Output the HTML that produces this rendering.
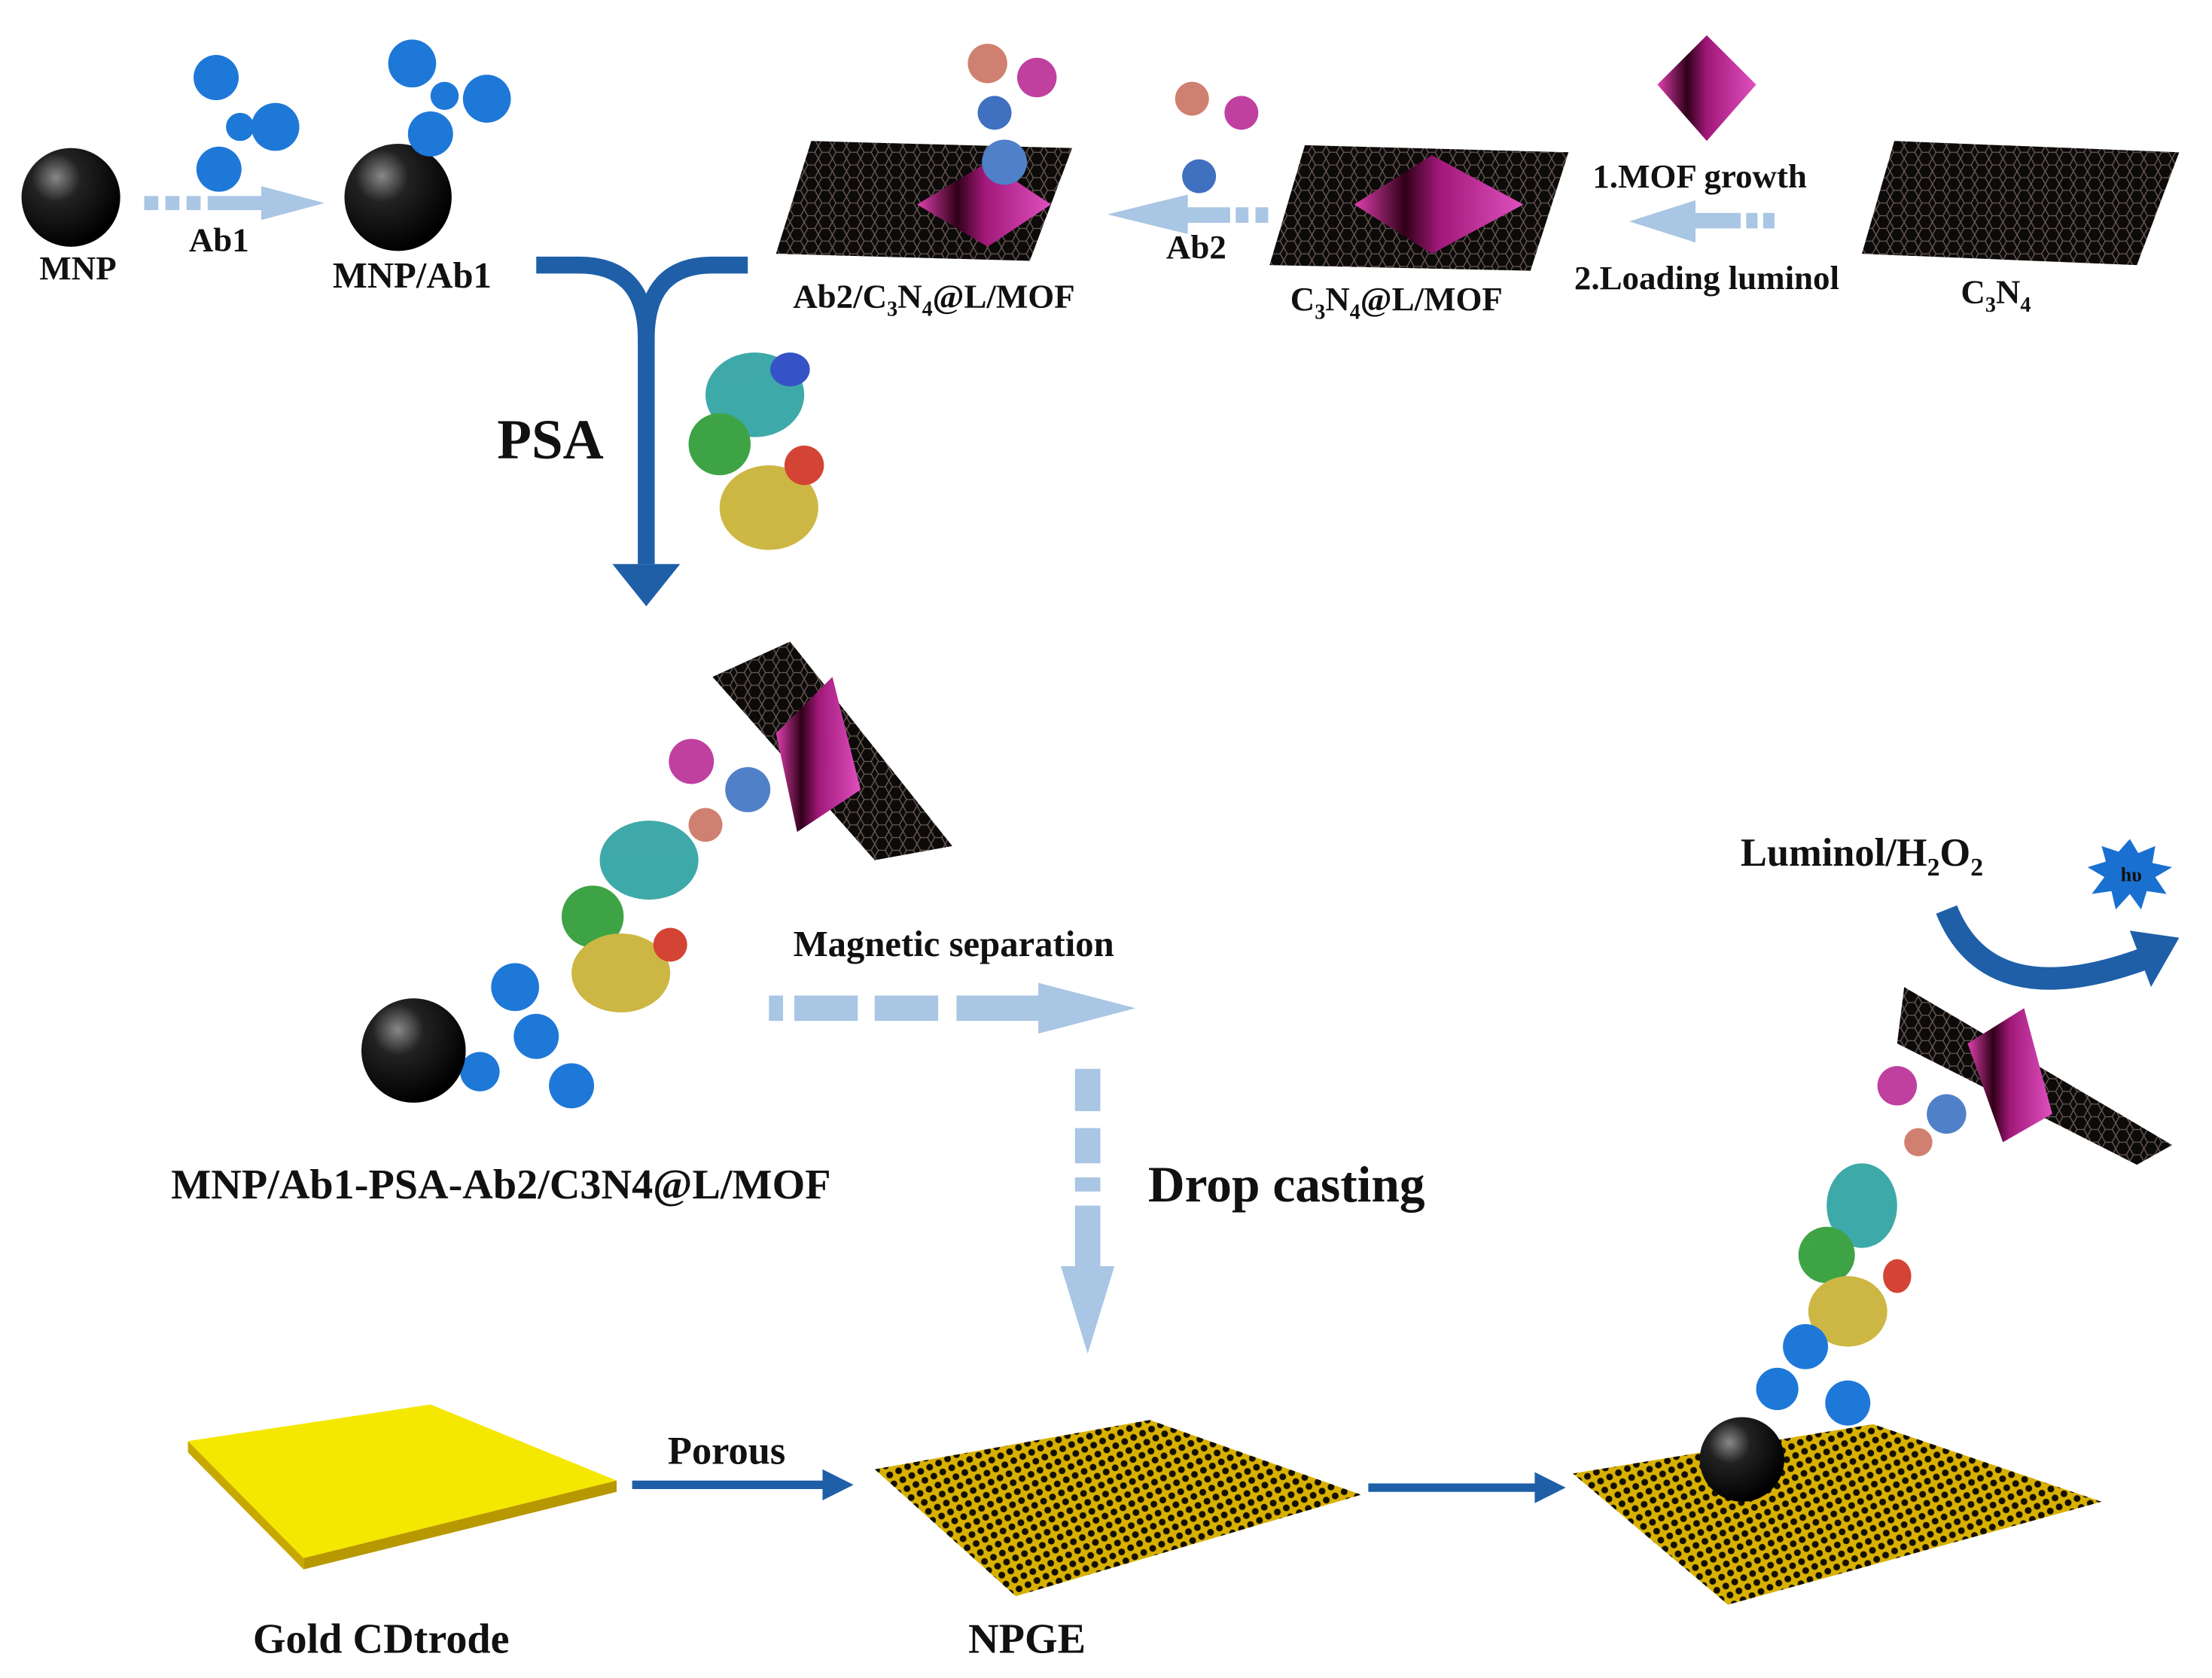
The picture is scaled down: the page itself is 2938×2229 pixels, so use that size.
<!DOCTYPE html>
<html><head><meta charset="utf-8"><style>html,body{margin:0;padding:0;background:#fff}svg{display:block}</style></head>
<body>
<svg width="2938" height="2229" viewBox="0 0 1568 1190" xmlns="http://www.w3.org/2000/svg">
<defs>
<pattern id="hex" width="10" height="9" patternUnits="userSpaceOnUse">
<rect width="10" height="9" fill="#0d0a0a"/>
<path d="M0 4.5 L2.5 0 L7.5 0 L10 4.5 L7.5 9 L2.5 9 Z" fill="none" stroke="#6a5c55" stroke-width="0.7"/>
</pattern>
<pattern id="chk" width="7" height="7" patternUnits="userSpaceOnUse" patternTransform="rotate(-25)">
<rect width="7" height="7" fill="#d8b000"/>
<circle cx="3.5" cy="3.5" r="2.4" fill="#141000"/>
</pattern>
<radialGradient id="ball" cx="0.35" cy="0.3" r="0.7">
<stop offset="0" stop-color="#888"/><stop offset="0.35" stop-color="#222"/><stop offset="1" stop-color="#000"/>
</radialGradient>
<linearGradient id="mof" x1="0" x2="1">
<stop offset="0" stop-color="#e040b0"/><stop offset="0.3" stop-color="#300018"/><stop offset="0.5" stop-color="#a01878"/><stop offset="1" stop-color="#e050c0"/>
</linearGradient>
</defs>
<g font-family="Liberation Serif, serif" font-weight="bold" fill="#111">

<!-- top row -->
<circle cx="50" cy="140" r="35" fill="url(#ball)"/>
<text x="55" y="198" font-size="24" text-anchor="middle">MNP</text>
<g fill="#a9c6e4"><rect x="102" y="139" width="10" height="10"/><rect x="117" y="139" width="10" height="10"/><rect x="132" y="139" width="10" height="10"/><rect x="147" y="139" width="40" height="10"/><path d="M185 132 L230 144 L185 156Z"/></g>
<text x="155" y="178" font-size="24" text-anchor="middle">Ab1</text>
<g fill="#1e78d8"><circle cx="153" cy="55" r="16"/><circle cx="195" cy="90" r="17"/><circle cx="155" cy="120" r="16"/><circle cx="170" cy="90" r="10"/></g>
<circle cx="282" cy="140" r="38" fill="url(#ball)"/>
<g fill="#1e78d8"><circle cx="292" cy="45" r="17"/><circle cx="345" cy="70" r="17"/><circle cx="305" cy="95" r="16"/><circle cx="315" cy="68" r="10"/></g>
<text x="292" y="204" font-size="26" text-anchor="middle">MNP/Ab1</text>

<!-- Y arrow -->
<path d="M380 188 L410 188 Q458 188 458 240 L458 400" fill="none" stroke="#1f5fa8" stroke-width="12"/>
<path d="M530 188 L505 188 Q458 188 458 240" fill="none" stroke="#1f5fa8" stroke-width="12"/>
<path d="M434 400 L482 400 L458 430Z" fill="#1f5fa8"/>
<text x="390" y="325" font-size="40" text-anchor="middle">PSA</text>
<g opacity="0.9"><ellipse cx="535" cy="280" rx="35" ry="30" fill="#2aa0a0"/><ellipse cx="510" cy="315" rx="22" ry="22" fill="#2a9a30"/><ellipse cx="545" cy="360" rx="35" ry="30" fill="#c8b030"/><ellipse cx="570" cy="330" rx="14" ry="14" fill="#d03020"/><ellipse cx="560" cy="262" rx="14" ry="12" fill="#2040c0"/></g>

<!-- sheets -->
<polygon points="575,100 760,105 730,185 550,180" fill="url(#hex)"/>
<polygon points="650,145 700,115 745,145 700,175" fill="url(#mof)"/>
<g><circle cx="700" cy="45" r="14" fill="#d08070"/><circle cx="735" cy="55" r="14" fill="#c040a0"/><circle cx="705" cy="80" r="12" fill="#4070c0"/><circle cx="712" cy="115" r="16" fill="#5080c8"/></g>
<text x="662" y="218" font-size="24" text-anchor="middle">Ab2/C<tspan font-size="15" dy="6">3</tspan><tspan dy="-6">N</tspan><tspan font-size="15" dy="6">4</tspan><tspan dy="-6">@L/MOF</tspan></text>
<g fill="#a9c6e4"><rect x="890" y="147" width="9" height="11"/><rect x="876" y="147" width="9" height="11"/><rect x="840" y="147" width="32" height="11"/><path d="M842 138 L785 152 L842 166Z"/></g>
<g><circle cx="845" cy="70" r="12" fill="#d08070"/><circle cx="880" cy="80" r="12" fill="#c040a0"/><circle cx="850" cy="125" r="12" fill="#4070c0"/></g>
<text x="848" y="183" font-size="24" text-anchor="middle">Ab2</text>
<polygon points="925,103 1112,108 1085,192 900,188" fill="url(#hex)"/>
<polygon points="960,145 1015,110 1080,145 1015,180" fill="url(#mof)"/>
<text x="990" y="220" font-size="24" text-anchor="middle">C<tspan font-size="15" dy="6">3</tspan><tspan dy="-6">N</tspan><tspan font-size="15" dy="6">4</tspan><tspan dy="-6">@L/MOF</tspan></text>
<polygon points="1175,60 1210,25 1245,60 1210,100" fill="url(#mof)"/>
<text x="1205" y="133" font-size="24" text-anchor="middle">1.MOF growth</text>
<g fill="#a9c6e4"><rect x="1250" y="151" width="8" height="11"/><rect x="1238" y="151" width="8" height="11"/><rect x="1200" y="151" width="34" height="11"/><path d="M1202 142 L1155 157 L1202 172Z"/></g>
<text x="1210" y="205" font-size="24" text-anchor="middle">2.Loading luminol</text>
<polygon points="1343,100 1545,108 1515,188 1320,180" fill="url(#hex)"/>
<text x="1415" y="215" font-size="24" text-anchor="middle">C<tspan font-size="15" dy="6">3</tspan><tspan dy="-6">N</tspan><tspan font-size="15" dy="6">4</tspan></text>

<!-- middle complex -->
<polygon points="505,480 560,455 675,600 620,610" fill="url(#hex)"/>
<polygon points="550,520 590,480 610,560 565,590" fill="url(#mof)"/>
<g><circle cx="490" cy="540" r="16" fill="#c040a0"/><circle cx="530" cy="560" r="16" fill="#5080c8"/><circle cx="500" cy="585" r="12" fill="#d08070"/></g>
<g opacity="0.9"><ellipse cx="460" cy="610" rx="35" ry="28" fill="#2aa0a0"/><ellipse cx="420" cy="650" rx="22" ry="22" fill="#2a9a30"/><ellipse cx="440" cy="690" rx="35" ry="28" fill="#c8b030"/><ellipse cx="475" cy="670" rx="12" ry="12" fill="#d03020"/></g>
<g fill="#1e78d8"><circle cx="365" cy="700" r="17"/><circle cx="380" cy="735" r="16"/><circle cx="340" cy="760" r="14"/><circle cx="405" cy="770" r="16"/></g>
<circle cx="293" cy="745" r="37" fill="url(#ball)"/>
<text x="355" y="850" font-size="30" text-anchor="middle">MNP/Ab1-PSA-Ab2/C3N4@L/MOF</text>
<text x="676" y="678" font-size="26" text-anchor="middle">Magnetic separation</text>
<g fill="#a9c6e4"><rect x="545" y="706" width="10" height="18"/><rect x="563" y="706" width="45" height="18"/><rect x="620" y="706" width="45" height="18"/><rect x="678" y="706" width="60" height="18"/><path d="M736 697 L805 715 L736 733Z"/></g>
<g fill="#a9c6e4"><rect x="762" y="758" width="18" height="30"/><rect x="762" y="800" width="18" height="25"/><rect x="762" y="835" width="18" height="10"/><rect x="762" y="855" width="18" height="45"/><path d="M752 898 L790 898 L771 960Z"/></g>
<text x="912" y="852" font-size="36" text-anchor="middle">Drop casting</text>

<!-- bottom -->
<polygon points="133,1022 305,996 437,1050 215,1105" fill="#f4e800"/>
<polygon points="215,1105 437,1050 437,1058 215,1113" fill="#b89800"/>
<polygon points="133,1022 215,1105 215,1113 133,1030" fill="#c8a800"/>
<text x="270" y="1172" font-size="30" text-anchor="middle">Gold CDtrode</text>
<line x1="448" y1="1053" x2="585" y2="1053" stroke="#1f5fa8" stroke-width="6"/><path d="M583 1042 L605 1053 L583 1064Z" fill="#1f5fa8"/>
<text x="515" y="1038" font-size="28" text-anchor="middle">Porous</text>
<polygon points="620,1042 815,1007 965,1060 720,1132" fill="url(#chk)"/>
<text x="728" y="1172" font-size="30" text-anchor="middle">NPGE</text>
<line x1="970" y1="1055" x2="1090" y2="1055" stroke="#1f5fa8" stroke-width="6"/><path d="M1088 1044 L1110 1055 L1088 1066Z" fill="#1f5fa8"/>
<polygon points="1115,1045 1328,1010 1490,1065 1225,1138" fill="url(#chk)"/>
<polygon points="1350,700 1540,812 1515,826 1345,740" fill="url(#hex)"/>
<polygon points="1395,740 1435,715 1455,790 1420,810" fill="url(#mof)"/>
<g><circle cx="1345" cy="770" r="14" fill="#c040a0"/><circle cx="1380" cy="790" r="14" fill="#5080c8"/><circle cx="1360" cy="810" r="10" fill="#d08070"/></g>
<g opacity="0.9"><ellipse cx="1320" cy="855" rx="25" ry="30" fill="#2aa0a0"/><ellipse cx="1295" cy="890" rx="20" ry="20" fill="#2a9a30"/><ellipse cx="1310" cy="930" rx="28" ry="25" fill="#c8b030"/><ellipse cx="1345" cy="905" rx="10" ry="12" fill="#d03020"/></g>
<g fill="#1e78d8"><circle cx="1280" cy="955" r="16"/><circle cx="1260" cy="985" r="15"/><circle cx="1310" cy="995" r="16"/></g>
<circle cx="1235" cy="1035" r="30" fill="url(#ball)"/>
<text x="1320" y="614" font-size="28" text-anchor="middle">Luminol/H<tspan font-size="18" dy="7">2</tspan><tspan dy="-7">O</tspan><tspan font-size="18" dy="7">2</tspan></text>
<path d="M1380 645 Q1410 720 1520 680" fill="none" stroke="#1f5fa8" stroke-width="16"/>
<path d="M1510 660 L1545 665 L1525 700Z" fill="#1f5fa8"/>
<polygon points="1510,595 1516,605 1528,600 1526,612 1540,615 1528,622 1536,634 1522,632 1518,645 1510,634 1500,645 1497,632 1483,634 1492,622 1480,615 1493,611 1490,600 1502,604" fill="#1a70d0"/>
<text x="1511" y="625" font-size="14" text-anchor="middle" fill="#111">hυ</text>
</g>
</svg>
</body></html>
